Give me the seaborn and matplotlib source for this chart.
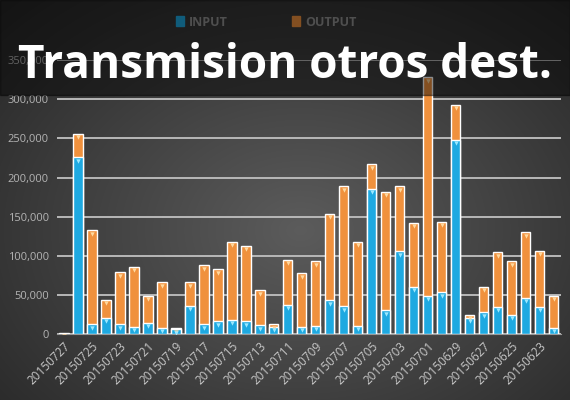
import numpy as np
import pandas as pd
import matplotlib
matplotlib.use("Agg")
import matplotlib.pyplot as plt
import matplotlib.transforms as mtransforms
from matplotlib.patches import Rectangle, Patch
import seaborn as sns

dates = [
    "20150727", "20150726", "20150725", "20150724", "20150723", "20150722",
    "20150721", "20150720", "20150719", "20150718", "20150717", "20150716",
    "20150715", "20150714", "20150713", "20150712", "20150711", "20150710",
    "20150709", "20150708", "20150707", "20150706", "20150705", "20150704",
    "20150703", "20150702", "20150701", "20150630", "20150629", "20150628",
    "20150627", "20150626", "20150625", "20150624", "20150623", "20150622",
]
input_vals = [500, 226000, 13000, 21000, 13000, 10000, 15000, 8500, 6400, 36600,
              13000, 17000, 19000, 17000, 11500, 10000, 38000, 10000,
              11000, 43600, 36000, 11000, 186000, 31000, 106000, 60600, 49000, 54000,
              248000, 21000, 28000, 35000, 25000, 47000, 35000, 8500]
output_vals = [1500, 30000, 120000, 23000, 66000, 76000, 34000, 58000, 1300, 30000,
               75000, 66000, 99000, 96000, 44500, 3000, 57000, 68000,
               82000, 110000, 153000, 107000, 31000, 151000, 83000, 82000, 279000, 90000,
               45000, 4000, 32600, 70000, 68000, 83000, 72000, 40500]

blue = "#1ea9e1"
orange = "#f0913d"

df = pd.DataFrame({"date": dates, "input": input_vals, "output": output_vals})
df["total"] = df["input"] + df["output"]

sns.set_style("dark")
plt.rcParams['font.family'] = ['Open Sans', 'DejaVu Sans']

fig = plt.figure(figsize=(5.7, 4), dpi=100)

# dark radial background
bg = fig.add_axes([0, 0, 1, 1], zorder=-1)
yy, xx = np.mgrid[0:400, 0:570]
d = np.sqrt(((xx - 300) / 400.0) ** 2 + ((yy - 230) / 300.0) ** 2)
shade = np.clip(0.36 - 0.2 * d, 0.12, 1)
bg.imshow(np.dstack([shade, shade, shade]), aspect="auto", extent=(0, 1, 0, 1))
bg.set_axis_off()

ax = fig.add_axes([0.1, 0.164, 0.884, 0.686])
ax.set_facecolor("none")

sns.barplot(data=df, x="date", y="total", color=orange, saturation=1,
            width=0.65, ax=ax, zorder=3)
sns.barplot(data=df, x="date", y="input", color=blue, saturation=1,
            width=0.65, ax=ax, zorder=3)

# little highlight triangles at the top of each segment
pos = np.arange(len(dates))
off = mtransforms.offset_copy(ax.transData, fig=fig, x=0, y=-2.5, units="points")
ax.scatter(pos, df["total"], marker="v", s=10, color="#ffd9a0", zorder=4,
           linewidths=0, transform=off)
ax.scatter(pos, df["input"], marker="v", s=10, color="#9be8ff", zorder=4,
           linewidths=0, transform=off)

ax.set_xlim(-0.5, len(dates) - 0.5)
ax.set_ylim(0, 350000)
ax.set_yticks(np.arange(0, 350001, 50000))
ax.yaxis.set_major_formatter(matplotlib.ticker.FuncFormatter(lambda v, p: f"{int(v):,}"))
ax.set_xticks(pos[::2])
ax.set_xticklabels(dates[::2], rotation=45, ha="right", rotation_mode="anchor")
ax.tick_params(axis="x", colors="#c8c8c8", labelsize=8.5, length=0, pad=4)
ax.tick_params(axis="y", colors="#b4b4b4", labelsize=8, length=0, pad=6)
ax.grid(axis="y", color="#b8b8b8", linewidth=1.4, zorder=1)
ax.grid(axis="x", visible=False)
ax.set_axisbelow(True)
for s in ["top", "right", "left"]:
    ax.spines[s].set_visible(False)
ax.spines["bottom"].set_color("#9a9a9a")
ax.set_xlabel("")
ax.set_ylabel("")

handles = [Patch(color=blue), Patch(color=orange)]
leg = fig.legend(handles, ["INPUT", "OUTPUT"], loc="center", bbox_to_anchor=(0.467, 0.945),
                 ncol=2, frameon=False, handlelength=0.6, handleheight=0.9,
                 handletextpad=0.4, columnspacing=5.2,
                 prop={"size": 9, "weight": "bold"})
for t in leg.get_texts():
    t.set_color("#909090")
leg.set_zorder(1)

# dark band behind the title
fig.patches.append(Rectangle((0, 0.7625), 1, 0.2375, transform=fig.transFigure,
                             color="black", alpha=0.45, zorder=2))

fig.text(0.5, 0.805, "Transmision otros dest.", ha="center", va="baseline",
         color="white", fontsize=33, fontweight="bold", zorder=10)

fig.savefig("out.png", dpi=100)
